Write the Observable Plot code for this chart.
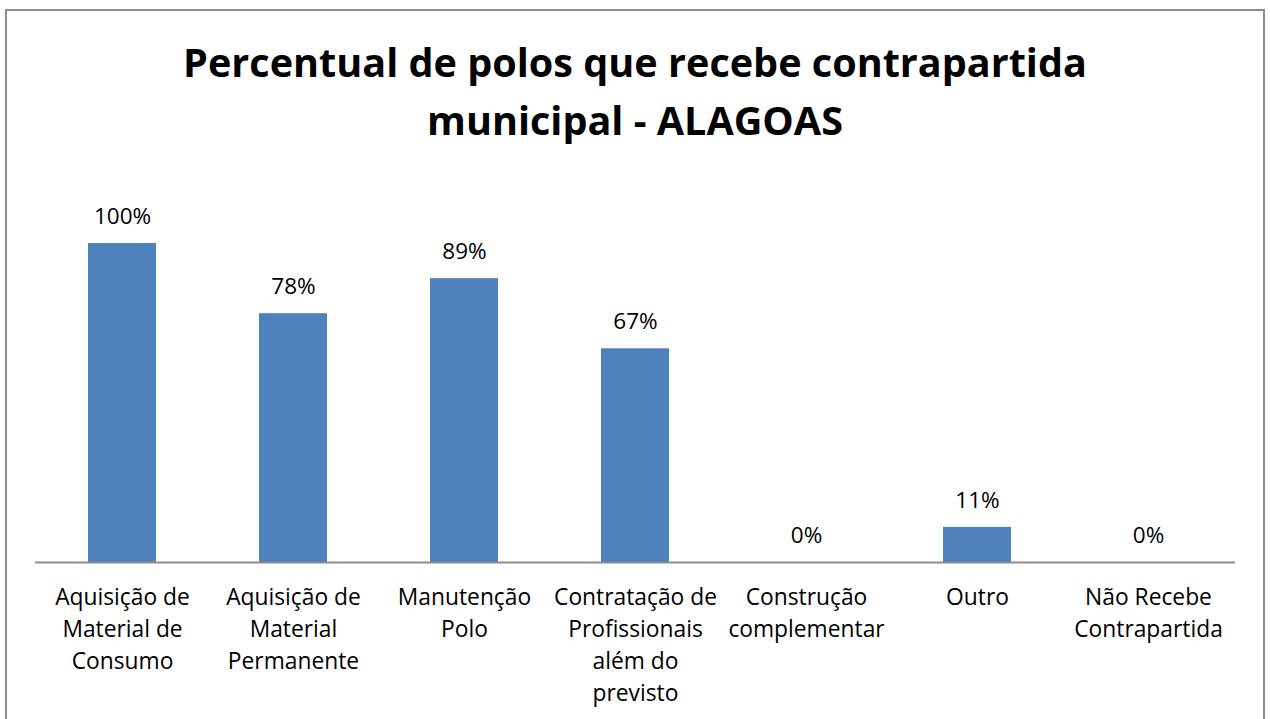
<!DOCTYPE html>
<html>
<head>
<meta charset="utf-8">
<script src="https://cdn.jsdelivr.net/npm/d3@7"></script>
<script src="https://cdn.jsdelivr.net/npm/@observablehq/plot@0.6"></script>
<style>
  html, body { margin: 0; padding: 0; background: #fff; overflow: hidden; }
  #frame { position: absolute; left: 5px; top: 9px; width: 1260px; height: 760px; border: 2px solid #8c8c8c; box-sizing: border-box; }
  #wrap { position: absolute; left: 0; top: 0; width: 1270px; }
  #title { height: 170px; box-sizing: border-box; padding-top: 33px; text-align: center; font-family: "Open Sans", sans-serif; font-weight: bold; font-size: 39.6px; line-height: 58px; color: #000; }
  svg { display: block; }
</style>
</head>
<body>
<div id="frame"></div>
<div id="wrap">
  <div id="title">Percentual de polos que recebe contrapartida<br>municipal - ALAGOAS</div>
  <div id="chart"></div>
</div>
<script>
const categories = [
  "Aquisição de\nMaterial de\nConsumo",
  "Aquisição de\nMaterial\nPermanente",
  "Manutenção\nPolo",
  "Contratação de\nProfissionais\nalém do\nprevisto",
  "Construção\ncomplementar",
  "Outro",
  "Não Recebe\nContrapartida"
];
const values = [1.00, 0.78, 0.89, 0.67, 0, 0.11, 0];
const valueLabels = ["100%", "78%", "89%", "67%", "0%", "11%", "0%"];

const data = categories.map((c, i) => ({cat: c, v: values[i], lab: valueLabels[i]}));

const chart = Plot.plot({
  width: 1270,
  height: 549,
  marginLeft: 35,
  marginRight: 35,
  marginTop: 73,
  marginBottom: 157,
  style: {fontFamily: "Open Sans, sans-serif", fontSize: "22px", color: "#000", background: "transparent"},
  x: {domain: categories, paddingInner: 0.6, paddingOuter: 0.3},
  y: {domain: [0, 1], axis: null},
  marks: [
    Plot.barY(data, {x: "cat", y: "v", fill: "#4F81BD"}),
    Plot.ruleY([0], {stroke: "#8c8c8c", strokeWidth: 2}),
    Plot.text(data, {x: "cat", y: "v", text: "lab", dy: -27, lineAnchor: "middle", fontSize: 22.5, fill: "#000"}),
    Plot.axisX({tickSize: 0, tickPadding: 20, fontSize: 22.8, lineHeight: 1.4, label: null, fill: "#000"})
  ]
});
document.getElementById("chart").appendChild(chart);
</script>
</body>
</html>
